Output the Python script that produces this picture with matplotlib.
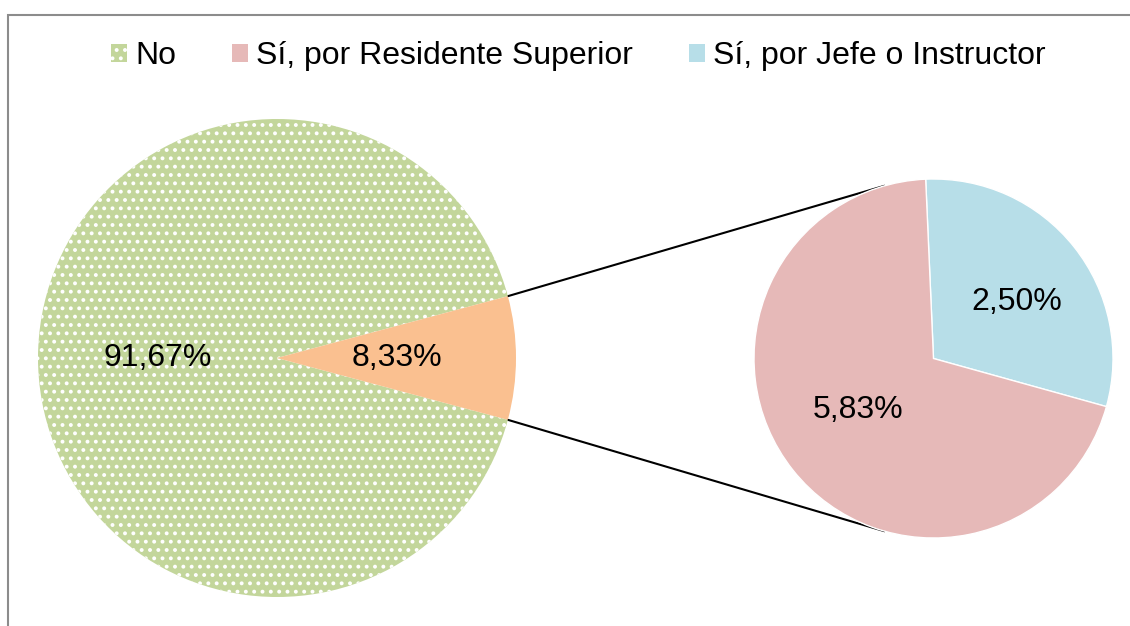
import numpy as np
import matplotlib
matplotlib.use("Agg")
import matplotlib.pyplot as plt
from matplotlib.patches import Patch, Rectangle

plt.rcParams['font.family'] = ['Liberation Sans', 'DejaVu Sans']
plt.rcParams['hatch.linewidth'] = 1.6

# datos
principal_valores = [91.67, 8.33]
detalle_etiquetas = ["Sí, por Jefe o Instructor", "Sí, por Residente Superior"]
detalle_valores = [2.50, 5.83]

verde = "#C3D69B"
naranja = "#FAC090"
rosa = "#E6B9B8"
celeste = "#B7DEE8"


def fmt(p):
    return f"{p:.2f}%".replace(".", ",")


fig = plt.figure(figsize=(11.3, 6.26), dpi=100)
ax = fig.add_axes([0, 0, 1, 1])

# pastel principal
c1 = (277, 626 - 358)
r1 = 239
ang_sec = 360 * principal_valores[1] / sum(principal_valores)
w1, t1 = ax.pie(principal_valores, colors=[verde, naranja], center=c1, radius=r1,
                startangle=ang_sec / 2, counterclock=True,
                wedgeprops=dict(linewidth=0, edgecolor="white"), frame=True)
w1[0].set_hatch("..")
for w, v in zip(w1, principal_valores):
    a = np.deg2rad((w.theta1 + w.theta2) / 2)
    ax.text(c1[0] + 0.5 * r1 * np.cos(a), c1[1] + 0.5 * r1 * np.sin(a), fmt(v),
            ha="center", va="center", fontsize=23)

# pastel secundario
c2 = (933.5, 626 - 358.5)
r2 = 179.5
frac_azul = detalle_valores[0] / sum(detalle_valores)
start2 = 92.5 - 360 * frac_azul
w2, t2 = ax.pie(detalle_valores, colors=[celeste, rosa], center=c2, radius=r2,
                startangle=start2, counterclock=True,
                wedgeprops=dict(linewidth=1, edgecolor="white"), frame=True)
for w, v, d in zip(w2, detalle_valores, [0.56, 0.51]):
    a = np.deg2rad((w.theta1 + w.theta2) / 2 - 4)
    ax.text(c2[0] + d * r2 * np.cos(a), c2[1] + d * r2 * np.sin(a), fmt(v),
            ha="center", va="center", fontsize=23)

ax.set_xlim(0, 1130)
ax.set_ylim(0, 626)
ax.set_aspect("equal")
ax.axis("off")

# lineas de conexion
for s in (1, -1):
    a1 = np.deg2rad(s * ang_sec / 2)
    a2 = np.deg2rad(s * 106)
    ax.plot([c1[0] + r1 * np.cos(a1), c2[0] + r2 * np.cos(a2)],
            [c1[1] + r1 * np.sin(a1), c2[1] + r2 * np.sin(a2)],
            color="black", lw=1.5, zorder=0.5)

# marco
ax.add_patch(Rectangle((8, -100), 1200, 626 - 15 + 100, fill=False,
                       edgecolor="#8c8c8c", lw=1.5, zorder=0))

# leyenda
handles = [Patch(facecolor=verde, hatch="..", edgecolor="white", linewidth=0, label="No"),
           Patch(facecolor=rosa, label=detalle_etiquetas[1]),
           Patch(facecolor=celeste, label=detalle_etiquetas[0])]
fig.legend(handles=handles, loc="center", bbox_to_anchor=(0.512, 1 - 56 / 626), ncol=3,
           frameon=False, fontsize=23, handlelength=0.5, handleheight=0.5,
           handletextpad=0.25, columnspacing=1.75)

fig.savefig("out.png", dpi=100)
